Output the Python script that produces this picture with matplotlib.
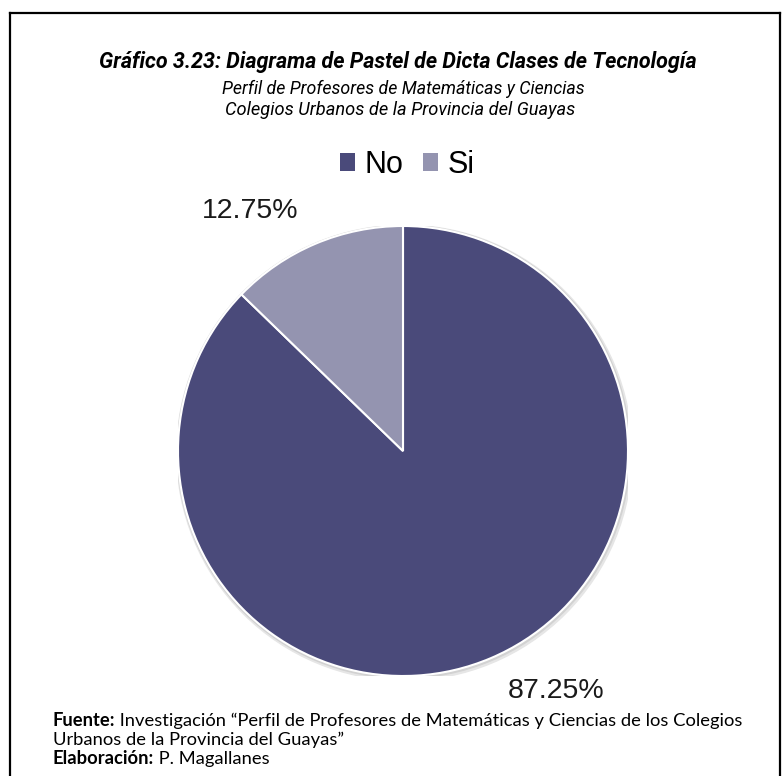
import numpy as np
import matplotlib.pyplot as plt
from matplotlib.patches import Patch, Rectangle, Circle
from matplotlib.lines import Line2D

# data
categories = ["No", "Si"]
percentages = [87.25, 12.75]
colors = ["#4a4a7a", "#9494b0"]

title = "Gráfico 3.23: Diagrama de Pastel de Dicta Clases de Tecnología"
subtitle1 = "Perfil de Profesores de Matemáticas y Ciencias"
subtitle2 = "Colegios Urbanos de la Provincia del Guayas"
foot1_bold = "Fuente:"
foot1 = " Investigación \u201cPerfil de Profesores de Matemáticas y Ciencias de los Colegios"
foot2 = "Urbanos de la Provincia del Guayas\u201d"
foot3_bold = "Elaboración:"
foot3 = " P. Magallanes"

W, H = 782, 776
fig = plt.figure(figsize=(W / 100, H / 100), dpi=100)

def fx(px):
    return px / W

def fy(py):
    return 1 - py / H

narrow = ["Roboto", "Liberation Sans", "DejaVu Sans"]
arial = ["Liberation Sans", "DejaVu Sans"]
calib = ["Lato", "DejaVu Sans"]

fig.canvas.draw()
renderer = fig.canvas.get_renderer()

def fit_width(t, target):
    # scale the font so the text spans the same width as in the reference
    w = t.get_window_extent(renderer).width
    t.set_fontsize(t.get_fontsize() * target / w)

# frame lines (left, top, right)
for xs, ys in [([10, 10], [13, H]), ([10, 780], [13, 13]), ([780, 780], [13, H])]:
    fig.add_artist(Line2D([fx(x) for x in xs], [fy(y) for y in ys], color="black", lw=1.6))

# titles
t = fig.text(fx(398), fy(62), title, ha="center", va="center", fontsize=16,
             fontweight="bold", fontstyle="italic", family=narrow)
fit_width(t, 602)
t = fig.text(fx(403), fy(89), subtitle1, ha="center", va="center", fontsize=12.5,
             fontstyle="italic", family=narrow)
fit_width(t, 362)
t = fig.text(fx(400), fy(110), subtitle2, ha="center", va="center", fontsize=12.5,
             fontstyle="italic", family=narrow)
fit_width(t, 350)

# pie
cx, cy, r = 403, 451, 225
ax = fig.add_axes([fx(cx - r), fy(cy + r), 2 * r / W, 2 * r / H])
# soft shadow ring
ax.add_patch(Circle((0.006, -0.008), 1.012, color="#e6e6e6", zorder=0))
ax.add_patch(Circle((0.003, -0.004), 1.006, color="#d2d2d2", zorder=0))
wedges, texts, autotexts = ax.pie(percentages, colors=colors, startangle=90,
                                  counterclock=False, autopct="%.2f%%",
                                  pctdistance=1.25,
                                  wedgeprops=dict(edgecolor="white", linewidth=1.5),
                                  textprops=dict(fontsize=20.5, family=arial, color="#1a1a1a"))
# labels sit a bit counter-clockwise of the slice middle
for w, t in zip(wedges, autotexts):
    ang = np.deg2rad((w.theta1 + w.theta2) / 2 + 9.5)
    t.set_position((1.265 * np.cos(ang), 1.265 * np.sin(ang)))
    t.set_clip_on(False)
ax.set_xlim(-1, 1)
ax.set_ylim(-1, 1)
ax.axis("off")

# legend
handles = [Patch(facecolor=c, edgecolor="none") for c in colors]
fig.legend(handles, categories, loc="center", bbox_to_anchor=(fx(407), fy(165)),
           ncol=2, frameon=False, prop=dict(family=arial, size=22),
           handlelength=0.5, handleheight=0.5, handletextpad=0.3,
           columnspacing=0.65)

# white footer box covering the bottom of the lower label
fig.add_artist(Rectangle((fx(40), 0), fx(735), fy(699), transform=fig.transFigure,
                         facecolor="white", edgecolor="none", zorder=5))

def two_part(x, y, bold, rest, size):
    t1 = fig.text(fx(x), fy(y), bold, ha="left", va="center", fontsize=size,
                  fontweight="bold", family=calib, zorder=6)
    bb = t1.get_window_extent(renderer)
    t2 = fig.text(bb.x1 / W, fy(y), rest, ha="left", va="center", fontsize=size,
                  family=calib, zorder=6)
    return t1, t2

fsize = 13.2
two_part(53, 721, foot1_bold, foot1, fsize)
fig.text(fx(53), fy(740), foot2, ha="left", va="center", fontsize=fsize,
         family=calib, zorder=6)
two_part(53, 759, foot3_bold, foot3, fsize)

fig.savefig("out.png", dpi=100)
